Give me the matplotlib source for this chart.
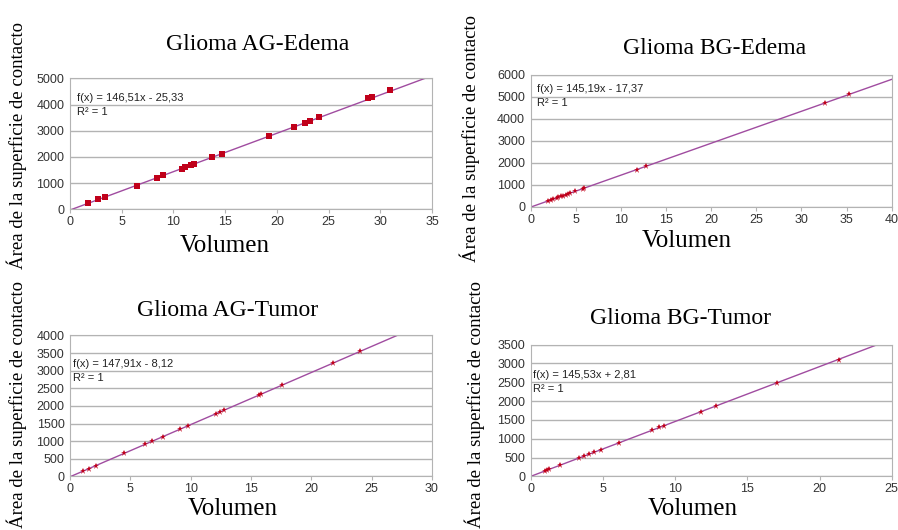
import numpy as np
import matplotlib.pyplot as plt

# Glioma AG-Edema
ag_edema_vol = [1.71, 2.71, 3.39, 6.45, 8.45, 9.03, 10.81, 11.13, 11.68, 12.0,
                13.74, 14.68, 19.26, 21.65, 22.68, 23.19, 24.1, 28.77, 29.19, 30.9]
ag_edema_area = [229, 382, 483, 903, 1209, 1310, 1552, 1603, 1692, 1730,
                 1997, 2125, 2786, 3155, 3282, 3359, 3524, 4237, 4300, 4542]

# Glioma BG-Edema
bg_edema_vol = [1.88, 2.25, 2.44, 2.88, 3.07, 3.32, 3.62, 3.88, 4.17, 4.36,
                4.91, 5.76, 5.95, 11.74, 12.78, 32.6, 35.27]
bg_edema_area = [256, 309, 337, 401, 429, 465, 508, 546, 588, 616,
                 696, 819, 847, 1687, 1838, 4716, 5104]

# Glioma AG-Tumor
ag_tumor_vol = [1.11, 1.58, 2.16, 4.51, 6.22, 6.77, 7.69, 9.15, 9.76, 12.08,
                12.44, 12.8, 15.65, 15.84, 17.61, 21.79, 24.05]
ag_tumor_area = [156, 226, 311, 659, 912, 993, 1129, 1345, 1436, 1779,
                 1832, 1885, 2307, 2335, 2597, 3215, 3549]

# Glioma BG-Tumor
bg_tumor_vol = [0.99, 1.15, 1.27, 2.03, 3.35, 3.67, 4.06, 4.41, 4.85, 6.14,
                8.40, 8.91, 9.26, 11.80, 12.81, 17.04, 21.38]
bg_tumor_area = [147, 170, 188, 298, 490, 537, 594, 645, 709, 896,
                 1225, 1300, 1351, 1720, 1867, 2483, 3083]

titles = ['Glioma AG-Edema', 'Glioma BG-Edema', 'Glioma AG-Tumor', 'Glioma BG-Tumor']
slopes = [146.51, 145.19, 147.91, 145.53]
intercepts = [-25.33, -17.37, -8.12, 2.81]
equations = ['f(x) = 146,51x - 25,33', 'f(x) = 145,19x - 17,37',
             'f(x) = 147,91x - 8,12', 'f(x) = 145,53x + 2,81']
x_max = [35, 40, 30, 25]
y_max = [5000, 6000, 4000, 3500]
y_step = [1000, 1000, 500, 500]
markers = ['s', '*', '*', '*']

volumes = [ag_edema_vol, bg_edema_vol, ag_tumor_vol, bg_tumor_vol]
areas = [ag_edema_area, bg_edema_area, ag_tumor_area, bg_tumor_area]

# axes boxes in figure fractions [left, bottom, width, height]
boxes = [[0.078, 0.605, 0.403, 0.247],
         [0.591, 0.610, 0.402, 0.249],
         [0.078, 0.101, 0.403, 0.266],
         [0.591, 0.101, 0.402, 0.249]]
title_pos = [(258, 45), (715, 48), (228, 311), (681, 319)]
xlabel_pos = [(225, 246), (687, 241), (233, 509), (693, 509)]
ylabel_pos = [(17, 146), (470, 139), (17, 404), (475, 404)]
# equation label: left x and first-line centre y, in pixels
eq_pos = [(77, 98), (537, 89), (73, 364), (533, 375)]

W, H = 898, 530
grid_col = '#b3b3b3'
serif = ['Liberation Serif', 'DejaVu Serif']
sans = ['Liberation Sans', 'DejaVu Sans']

fig = plt.figure(figsize=(W / 100, H / 100), dpi=100)

for i in range(4):
    ax = fig.add_axes(boxes[i])
    ax.set_xlim(0, x_max[i])
    ax.set_ylim(0, y_max[i])
    ax.set_xticks(np.arange(0, x_max[i] + 1, 5))
    ax.set_yticks(np.arange(0, y_max[i] + 1, y_step[i]))
    ax.grid(axis='y', color=grid_col, linewidth=1)
    ax.set_axisbelow(True)
    for s in ax.spines.values():
        s.set_color(grid_col)
    ax.tick_params(axis='x', length=3, color=grid_col, labelsize=9, labelcolor='#333333', pad=2)
    ax.tick_params(axis='y', length=0, labelsize=9, labelcolor='#333333', pad=4)
    for lab in ax.get_xticklabels() + ax.get_yticklabels():
        lab.set_family(sans)

    # trend line
    xs = np.array([0, x_max[i]])
    ax.plot(xs, slopes[i] * xs + intercepts[i], color='#a04ca0', linewidth=1, zorder=2)
    # data
    ms = 4 if markers[i] == 's' else 5
    ax.plot(volumes[i], areas[i], linestyle='none', marker=markers[i], markersize=ms,
            color='#c0001a', markeredgewidth=0, zorder=3)

    ex, ey = eq_pos[i]
    fig.text(ex / W, 1 - ey / H, equations[i], fontsize=8, family=sans,
             color='#222222', va='center', ha='left')
    fig.text(ex / W, 1 - (ey + 14) / H, 'R² = 1', fontsize=8, family=sans,
             color='#222222', va='center', ha='left')

    tx, ty = title_pos[i]
    fig.text(tx / W, 1 - ty / H, titles[i], family=serif, fontsize=17, ha='center', va='center')
    xx, xy = xlabel_pos[i]
    fig.text(xx / W, 1 - xy / H, 'Volumen', family=serif, fontsize=18, ha='center', va='center')
    yx, yy = ylabel_pos[i]
    fig.text(yx / W, 1 - yy / H, 'Área de la superficie de contacto', family=serif,
             fontsize=13.5, rotation=90, ha='center', va='center')

fig.savefig('out.png', dpi=100)
